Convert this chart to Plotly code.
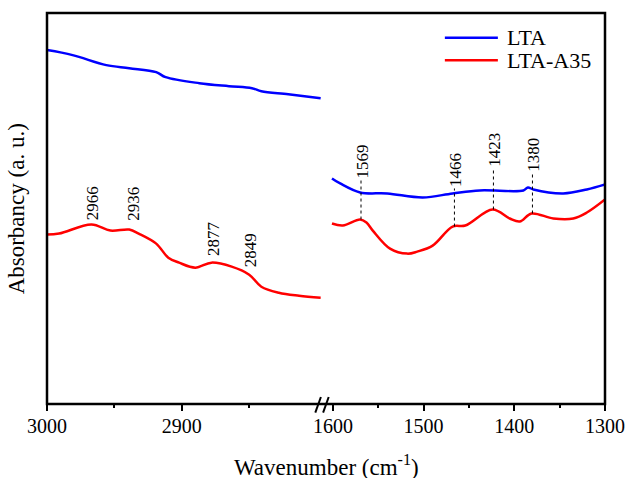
import plotly.graph_objects as go

# ---- data (arbitrary absorbance units) ----
lta_left_x = [3000, 2981, 2956, 2939, 2919, 2912, 2887, 2865, 2848, 2841, 2821, 2797]
lta_left_y = [353, 348, 338, 335, 331, 326, 320, 317, 315, 312, 309, 305]

a35_left_x = [3000, 2991, 2967, 2953, 2939, 2932, 2919, 2910, 2902, 2890, 2878, 2863, 2850, 2841, 2828, 2813, 2797]
a35_left_y = [169, 170, 179, 173, 174, 170, 160, 146, 141, 136, 141, 137, 129, 117, 111, 108, 106]

lta_right_x = [1601, 1592, 1570, 1540, 1501, 1468, 1438, 1390, 1385, 1379, 1346, 1320, 1300]
lta_right_y = [225, 220, 211, 210, 206, 210, 213, 213, 216, 214, 210, 214, 219]

a35_right_x = [1601, 1589, 1570, 1563, 1556, 1537, 1518, 1507, 1490, 1468, 1454, 1424, 1405, 1394, 1381, 1357, 1335, 1320, 1300]
a35_right_y = [180, 178, 184, 181, 173, 155, 150, 152, 158, 177, 178, 194, 185, 182, 190, 185, 185, 191, 204]

left_peaks = [2966, 2936, 2877, 2849]
left_peak_label_y = [181, 181, 146, 134]

right_peaks = [1569, 1466, 1423, 1380]
right_line_low = [184, 177, 194, 190]
right_line_high = [223, 215, 235, 230]

left_ticks = [3000, 2900]
left_minor = [2950, 2850]
right_ticks = [1600, 1500, 1400, 1300]
right_minor = [1550, 1450, 1350]

series_names = ["LTA", "LTA-A35"]

FONT = "Liberation Serif, Times New Roman, serif"
BLUE = "#0000FF"
RED = "#FF0000"
colors = [BLUE, RED]

fig = go.Figure()
fig.add_trace(go.Scatter(x=lta_left_x, y=lta_left_y, mode="lines", name=series_names[0],
                         line=dict(color=BLUE, width=2.5, shape="spline"), xaxis="x", yaxis="y"))
fig.add_trace(go.Scatter(x=a35_left_x, y=a35_left_y, mode="lines", name=series_names[1],
                         line=dict(color=RED, width=2.5, shape="spline"), xaxis="x", yaxis="y"))
fig.add_trace(go.Scatter(x=lta_right_x, y=lta_right_y, mode="lines", name=series_names[0],
                         line=dict(color=BLUE, width=2.5, shape="spline"), xaxis="x2", yaxis="y"))
fig.add_trace(go.Scatter(x=a35_right_x, y=a35_right_y, mode="lines", name=series_names[1],
                         line=dict(color=RED, width=2.5, shape="spline"), xaxis="x2", yaxis="y"))

for p, lo, hi in zip(right_peaks, right_line_low, right_line_high):
    fig.add_trace(go.Scatter(x=[p, p], y=[lo, hi], mode="lines", showlegend=False,
                             line=dict(color="black", width=1, dash="dot"), xaxis="x2", yaxis="y"))

annotations = []
for p, yv in zip(left_peaks, left_peak_label_y):
    annotations.append(dict(x=p, y=yv, xref="x", yref="y", text=str(p), showarrow=False,
                            textangle=-90, xanchor="center", yanchor="bottom",
                            font=dict(family=FONT, size=17, color="black")))
for p, yv in zip(right_peaks, right_line_high):
    annotations.append(dict(x=p, y=yv, xref="x2", yref="y", text=str(p), showarrow=False,
                            textangle=-90, xanchor="center", yanchor="bottom", xshift=1,
                            font=dict(family=FONT, size=17, color="black")))

annotations.append(dict(x=0.5, y=-0.157, xref="paper", yref="paper",
                        text="Wavenumber (cm<sup>-1</sup>)", showarrow=False,
                        xanchor="center", yanchor="middle",
                        font=dict(family=FONT, size=23, color="black")))
annotations.append(dict(x=-0.054, y=0.5, xref="paper", yref="paper",
                        text="Absorbancy (a. u.)", showarrow=False, textangle=-90,
                        xanchor="center", yanchor="middle",
                        font=dict(family=FONT, size=23, color="black")))

brk = (322 - 47) / 558.0
shapes = [
    dict(type="rect", xref="paper", yref="paper", x0=0, y0=0, x1=1, y1=1,
         line=dict(color="black", width=2.5)),
    dict(type="line", xref="paper", yref="paper", x0=brk - 0.012, y0=-0.022, x1=brk - 0.002, y1=0.018,
         line=dict(color="black", width=2)),
    dict(type="line", xref="paper", yref="paper", x0=brk + 0.002, y0=-0.022, x1=brk + 0.012, y1=0.018,
         line=dict(color="black", width=2)),
]

# manual legend (line samples + labels)
leg_y = [0.937, 0.879]
for name, col, ly in zip(series_names, colors, leg_y):
    shapes.append(dict(type="line", xref="paper", yref="paper", x0=0.713, x1=0.808, y0=ly, y1=ly,
                       line=dict(color=col, width=2.5)))
    annotations.append(dict(x=0.82, y=ly, xref="paper", yref="paper", text=name, showarrow=False,
                            xanchor="left", yanchor="middle",
                            font=dict(family=FONT, size=22, color="black")))

axis_common = dict(showgrid=False, zeroline=False, showline=False, ticks="outside",
                   ticklen=6, tickwidth=2, tickcolor="black", automargin=False,
                   ticklabelstandoff=-2,
                   tickfont=dict(family=FONT, size=20, color="black"))

fig.update_layout(
    width=630, height=478,
    margin=dict(l=47, r=25, t=13, b=74, autoexpand=False),
    paper_bgcolor="white", plot_bgcolor="white",
    font=dict(family=FONT, color="black"),
    xaxis=dict(domain=[0, brk], range=[3000, 2796], tickvals=left_ticks,
               minor=dict(tickvals=left_minor, ticks="outside", ticklen=3, tickwidth=2, tickcolor="black"),
               anchor="y", **axis_common),
    xaxis2=dict(domain=[brk, 1], range=[1612, 1300], tickvals=right_ticks,
                minor=dict(tickvals=right_minor, ticks="outside", ticklen=3, tickwidth=2, tickcolor="black"),
                anchor="y", **axis_common),
    yaxis=dict(range=[0, 390], showticklabels=False, ticks="", showgrid=False,
               zeroline=False, showline=False, automargin=False),
    annotations=annotations,
    shapes=shapes,
    showlegend=False,
)

fig.write_html("out.html")
